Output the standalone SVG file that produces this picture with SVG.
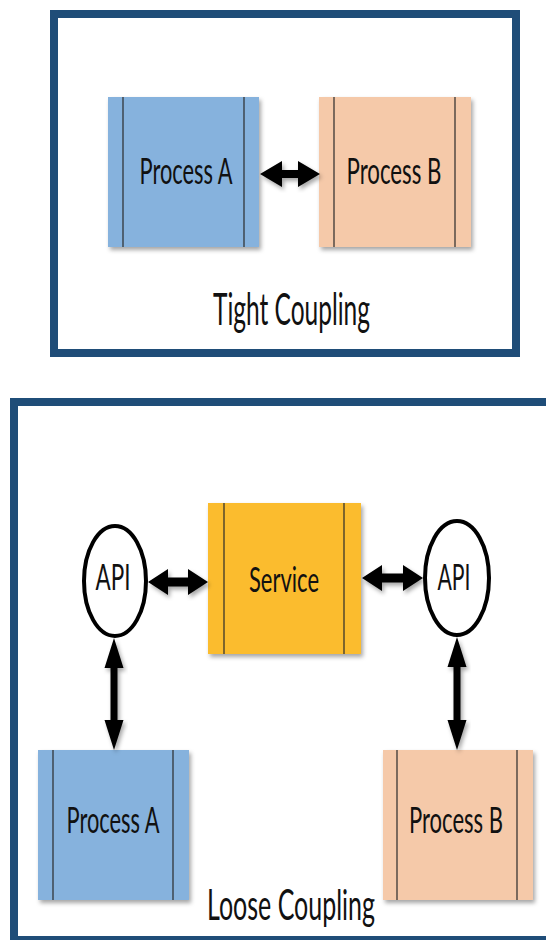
<svg xmlns="http://www.w3.org/2000/svg" width="546" height="940" viewBox="0 0 546 940">
<defs>
<filter id="sh" x="-20%" y="-20%" width="140%" height="140%">
<feDropShadow dx="2" dy="3" stdDeviation="2" flood-color="#000" flood-opacity="0.35"/>
</filter>
</defs>
<style>
.frame{fill:#fff;stroke:#1f4d78;stroke-width:8}
.blue{fill:#86b2dd}
.peach{fill:#f5c9a9}
.yellow{fill:#fbbc2d}
.div{stroke:#2b2b2b;stroke-width:1.2}
.api{fill:#fff;stroke:#000;stroke-width:4}
.arrow{fill:#000;filter:url(#sh)}
.lbl{font-family:"Lato","Open Sans",sans-serif;fill:#111;text-anchor:middle}
.box{filter:url(#sh)}
</style>
<rect width="546" height="940" fill="#fff"/>
<g id="tight-frame">
<rect class="frame" x="54" y="14" width="462" height="339"/>
<text class="lbl" x="291.5" y="325" font-size="44" textLength="157" lengthAdjust="spacingAndGlyphs">Tight Coupling</text>
</g>
<g id="loose-frame">
<rect class="frame" x="14" y="402" width="600" height="538"/>
<text class="lbl" x="291" y="920" font-size="43" textLength="168" lengthAdjust="spacingAndGlyphs">Loose Coupling</text>
</g>
<g id="top-process-a">
<rect class="blue box" x="108" y="97" width="151" height="150"/>
<line class="div" x1="123" y1="97" x2="123" y2="247"/>
<line class="div" x1="244" y1="97" x2="244" y2="247"/>
<text class="lbl" x="186" y="184" font-size="37" textLength="93" lengthAdjust="spacingAndGlyphs">Process A</text>
</g>
<g id="top-process-b">
<rect class="peach box" x="319" y="97" width="152" height="150"/>
<line class="div" x1="334" y1="97" x2="334" y2="247"/>
<line class="div" x1="455" y1="97" x2="455" y2="247"/>
<text class="lbl" x="394" y="184" font-size="37" textLength="95" lengthAdjust="spacingAndGlyphs">Process B</text>
</g>
<g id="service">
<rect class="yellow box" x="208" y="503" width="153" height="151"/>
<line class="div" x1="224" y1="503" x2="224" y2="654"/>
<line class="div" x1="344" y1="503" x2="344" y2="654"/>
<text class="lbl" x="284" y="592" font-size="34" textLength="70" lengthAdjust="spacingAndGlyphs">Service</text>
</g>
<g id="api-left">
<ellipse class="api" cx="115" cy="581" rx="31" ry="55"/>
<text class="lbl" x="113" y="590" font-size="36" textLength="35" lengthAdjust="spacingAndGlyphs">API</text>
</g>
<g id="api-right">
<ellipse class="api" cx="457" cy="578" rx="32" ry="57"/>
<text class="lbl" x="454" y="590" font-size="36" textLength="33" lengthAdjust="spacingAndGlyphs">API</text>
</g>
<g id="bottom-process-a">
<rect class="blue box" x="38" y="750" width="151" height="150"/>
<line class="div" x1="53" y1="750" x2="53" y2="900"/>
<line class="div" x1="173" y1="750" x2="173" y2="900"/>
<text class="lbl" x="113" y="833" font-size="37" textLength="93" lengthAdjust="spacingAndGlyphs">Process A</text>
</g>
<g id="bottom-process-b">
<rect class="peach box" x="383" y="750" width="150" height="150"/>
<line class="div" x1="397" y1="750" x2="397" y2="900"/>
<line class="div" x1="517" y1="750" x2="517" y2="900"/>
<text class="lbl" x="456" y="833" font-size="37" textLength="94" lengthAdjust="spacingAndGlyphs">Process B</text>
</g>
<g id="connectors">
<path class="arrow" d="M260,174 L282,161 L282,170 L298,170 L298,161 L320,174 L298,187 L298,178 L282,178 L282,187 Z"/>
<path class="arrow" d="M148,582 L168,569 L168,577.5 L188,577.5 L188,569 L208,582 L188,595 L188,586.5 L168,586.5 L168,595 Z"/>
<path class="arrow" d="M362,578 L382,565 L382,573.5 L403,573.5 L403,565 L423,578 L403,591 L403,582.5 L382,582.5 L382,591 Z"/>
<path class="arrow" d="M114,638 L123.5,668 L117.5,668 L117.5,720 L123.5,720 L114,750 L104.5,720 L110.5,720 L110.5,668 L104.5,668 Z"/>
<path class="arrow" d="M457,637 L466.5,667 L460.5,667 L460.5,720 L466.5,720 L457,750 L447.5,720 L453.5,720 L453.5,667 L447.5,667 Z"/>
</g>
</svg>
